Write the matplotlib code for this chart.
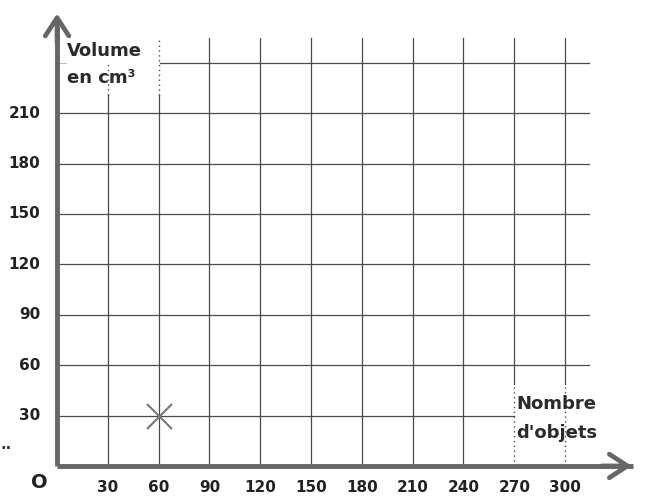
import numpy as np
import matplotlib.pyplot as plt

# graduations des axes
x_ticks = [30, 60, 90, 120, 150, 180, 210, 240, 270, 300]
y_ticks = [30, 60, 90, 120, 150, 180, 210]
y_grid = [30, 60, 90, 120, 150, 180, 210, 240]

# point place sur le graphique
pts_x = [60]
pts_y = [30]

grid_top = 255
grid_right = 314
grid_col = '#4a4a4a'
axis_col = '#666666'
txt_col = '#222222'

fig = plt.figure(figsize=(6.67, 4.96), dpi=100)
ax = fig.add_axes([0, 0, 1, 1])
ax.set_xlim(-33.7, 360.2)
ax.set_ylim(-17.9, 277.4)
ax.axis('off')

# boites des etiquettes (en coordonnees des donnees)
box_v = (5, 59.6, 221, grid_top)      # Volume en cm3
box_n = (270, 325, 0, 49)             # Nombre d'objets
dots = (0, (1, 2.5))

# lignes verticales
for x in x_ticks:
    if x == 30:
        ax.plot([x, x], [0, box_v[2]], color=grid_col, lw=0.9, zorder=1)
        ax.plot([x, x], [box_v[2], 239], color=grid_col, lw=1.0, ls=dots, zorder=3)
    elif x == 60:
        ax.plot([x, x], [0, box_v[2]], color=grid_col, lw=0.9, zorder=1)
        ax.plot([x, x], [box_v[2], grid_top], color=grid_col, lw=1.0, ls=dots, zorder=3)
    elif x in (270, 300):
        ax.plot([x, x], [box_n[3], grid_top], color=grid_col, lw=0.9, zorder=1)
        ax.plot([x, x], [0, box_n[3]], color=grid_col, lw=1.0, ls=dots, zorder=3)
    else:
        ax.plot([x, x], [0, grid_top], color=grid_col, lw=0.9, zorder=1)

# lignes horizontales
for y in y_grid:
    if y == 240:
        ax.plot([0, 5], [y, y], color='#bbbbbb', lw=0.8, zorder=1)
        ax.plot([61, grid_right], [y, y], color=grid_col, lw=0.9, zorder=1)
    elif y == 30:
        ax.plot([0, 270], [y, y], color=grid_col, lw=0.9, zorder=1)
    else:
        ax.plot([0, grid_right], [y, y], color=grid_col, lw=0.9, zorder=1)

# axes avec fleches
ax.plot([0, 0], [0, 262], color=axis_col, lw=3.5, solid_capstyle='butt', zorder=4)
ax.plot([0, 340], [0, 0], color=axis_col, lw=3.5, solid_capstyle='butt', zorder=4)
ax.annotate('', xy=(0, 271), xytext=(0, 250),
            arrowprops=dict(arrowstyle='->,head_length=1.3,head_width=0.85', color=axis_col, lw=3.4),
            zorder=5)
ax.annotate('', xy=(341, 0), xytext=(320, 0),
            arrowprops=dict(arrowstyle='->,head_length=1.3,head_width=0.85', color=axis_col, lw=3.4),
            zorder=5)

# graduations
for x in x_ticks:
    ax.text(x, -13, str(x), ha='center', va='center', fontsize=11,
            fontweight='bold', color=txt_col)
for y in y_ticks:
    ax.text(-10, y, str(y), ha='right', va='center', fontsize=11,
            fontweight='bold', color=txt_col)
ax.text(-5.5, -10, 'O', ha='right', va='center', fontsize=14,
        fontweight='bold', color=txt_col)
ax.text(-33.5, 13, '..', ha='left', va='center', fontsize=11,
        fontweight='bold', color='#333333')

# etiquettes des axes
lab = dict(ha='left', va='center', fontsize=13, fontweight='bold', color='#2a2a2a', zorder=6)
ax.text(6, 247, 'Volume', **lab)
ax.text(6, 231, 'en cm³', **lab)
ax.text(271, 37, 'Nombre', **lab)
ax.text(271, 19.5, "d'objets", **lab)

# point
ax.plot(pts_x, pts_y, marker='x', markersize=18, mew=1.5, color='#777777', ls='none', zorder=6)

fig.savefig('out.png', dpi=100)
